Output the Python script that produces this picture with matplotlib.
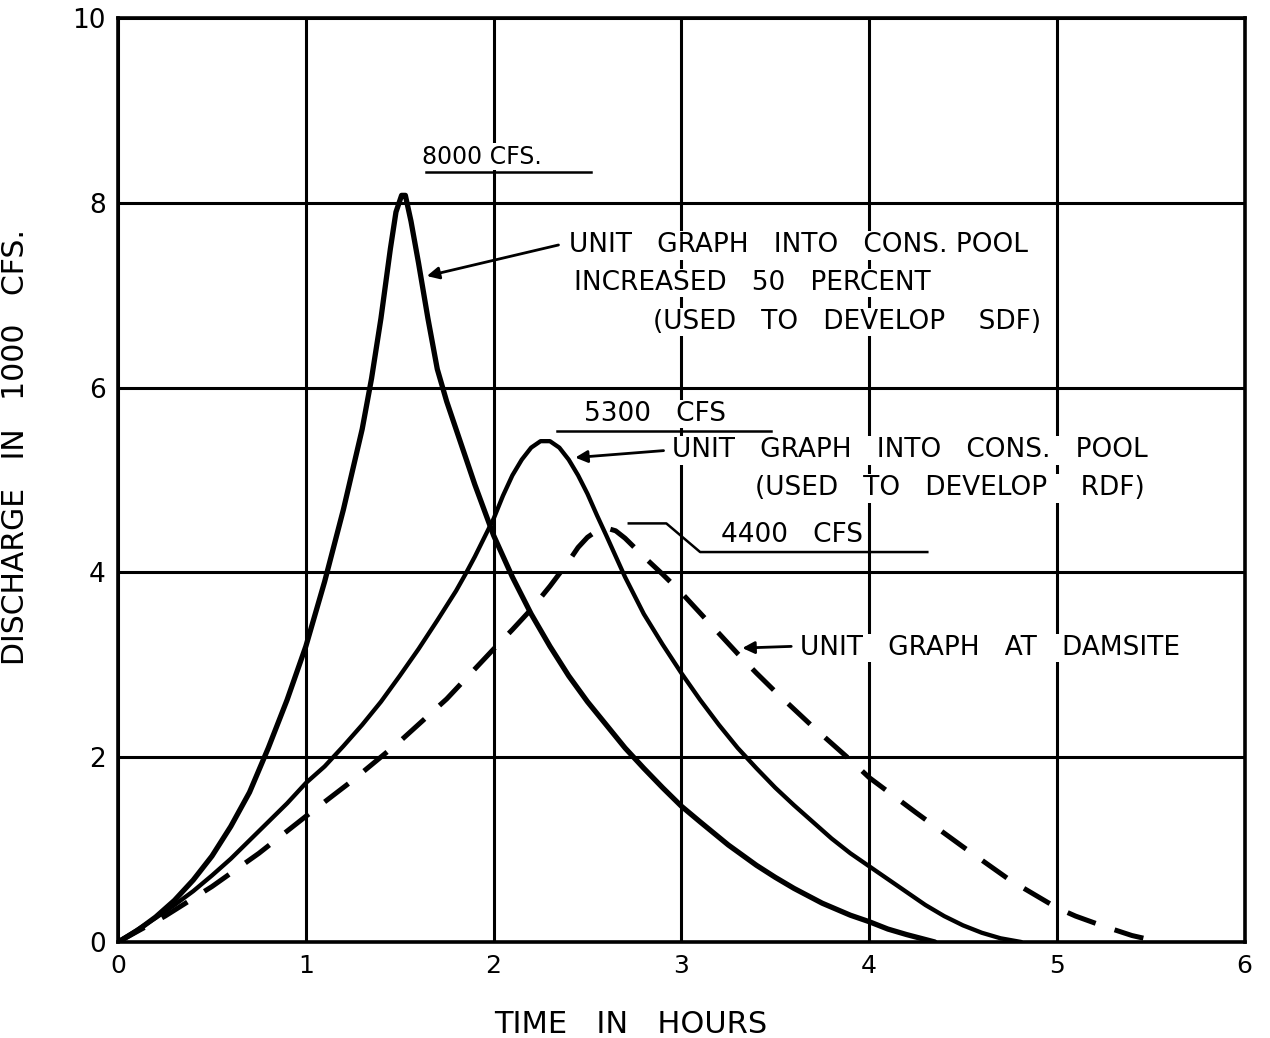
import matplotlib
matplotlib.use("Agg")
import matplotlib.pyplot as plt

# ---- data ----
t_sdf = [0, 0.1, 0.2, 0.3, 0.4, 0.5, 0.6, 0.7, 0.8, 0.9, 1.0, 1.1, 1.2, 1.3, 1.35, 1.4, 1.45,
         1.48, 1.51, 1.53, 1.56, 1.6, 1.65, 1.7, 1.75, 1.8, 1.9, 2.0, 2.1, 2.2, 2.3, 2.4, 2.5,
         2.6, 2.7, 2.8, 2.9, 3.0, 3.1, 3.25, 3.4, 3.5, 3.6, 3.75, 3.9, 4.0, 4.1, 4.2, 4.35]
q_sdf = [0, 0.12, 0.27, 0.45, 0.67, 0.93, 1.25, 1.62, 2.1, 2.62, 3.2, 3.9, 4.68, 5.55, 6.1, 6.75, 7.5,
         7.9, 8.08, 8.08, 7.8, 7.35, 6.75, 6.2, 5.85, 5.55, 4.95, 4.4, 3.95, 3.55, 3.2, 2.88, 2.6,
         2.35, 2.1, 1.88, 1.67, 1.47, 1.3, 1.05, 0.83, 0.7, 0.58, 0.42, 0.29, 0.22, 0.14, 0.08, 0]

t_rdf = [0, 0.1, 0.2, 0.3, 0.4, 0.5, 0.6, 0.7, 0.8, 0.9, 1.0, 1.1, 1.2, 1.3, 1.4, 1.5, 1.6, 1.7,
         1.8, 1.85, 1.9, 2.0, 2.05, 2.1, 2.15, 2.2, 2.25, 2.3, 2.35, 2.4, 2.45, 2.5, 2.55, 2.6,
         2.7, 2.8, 2.9, 3.0, 3.1, 3.2, 3.3, 3.4, 3.5, 3.6, 3.7, 3.8, 3.9, 4.0, 4.1, 4.2, 4.3,
         4.4, 4.5, 4.6, 4.7, 4.81]
q_rdf = [0, 0.13, 0.26, 0.4, 0.55, 0.72, 0.9, 1.1, 1.3, 1.5, 1.72, 1.9, 2.12, 2.35, 2.6, 2.88, 3.17, 3.48,
         3.8, 3.98, 4.17, 4.58, 4.83, 5.05, 5.22, 5.35, 5.42, 5.42, 5.35, 5.22, 5.05, 4.85, 4.62, 4.4,
         3.95, 3.55, 3.22, 2.91, 2.62, 2.35, 2.1, 1.88, 1.67, 1.48, 1.3, 1.12, 0.96, 0.82, 0.68, 0.54, 0.4,
         0.28, 0.18, 0.1, 0.04, 0]

t_dam = [0, 0.25, 0.5, 0.75, 1.0, 1.25, 1.5, 1.75, 2.0, 2.1, 2.2, 2.3, 2.4, 2.45, 2.5, 2.55, 2.6,
         2.65, 2.7, 2.8, 2.9, 3.0, 3.1, 3.2, 3.3, 3.4, 3.5, 3.6, 3.7, 3.8, 3.9, 4.0, 4.25, 4.5,
         4.75, 5.0, 5.1, 5.25, 5.4, 5.55]
q_dam = [0, 0.28, 0.6, 0.96, 1.36, 1.75, 2.17, 2.63, 3.17, 3.38, 3.6, 3.85, 4.12, 4.27, 4.38, 4.45, 4.48,
         4.45, 4.37, 4.17, 3.98, 3.78, 3.56, 3.34, 3.12, 2.91, 2.71, 2.52, 2.33, 2.15, 1.97, 1.78, 1.4, 1.03,
         0.67, 0.37, 0.28, 0.17, 0.07, 0]

x_ticks = [0, 1, 2, 3, 4, 5, 6]
y_ticks = [0, 2, 4, 6, 8, 10]

FONT = "DejaVu Sans"
plt.rcParams["font.family"] = [FONT]

fig = plt.figure(figsize=(12.7, 10.38), dpi=100)
ax = fig.add_axes([0.093, 0.0925, 0.887, 0.8902])

ax.set_xlim(0, 6)
ax.set_ylim(0, 10)
ax.set_xticks(x_ticks)
ax.set_yticks(y_ticks)
ax.set_xticklabels([str(v) for v in x_ticks], fontsize=18)
ax.set_yticklabels([str(v) for v in y_ticks], fontsize=19)
ax.tick_params(length=0, pad=9)
ax.grid(True, color="black", linewidth=2.2)
ax.set_axisbelow(True)
for s in ax.spines.values():
    s.set_linewidth(2.6)

ax.plot(t_sdf, q_sdf, color="black", lw=3.8, solid_joinstyle="round", solid_capstyle="round", zorder=3)
ax.plot(t_rdf, q_rdf, color="black", lw=3.1, solid_joinstyle="round", solid_capstyle="round", zorder=3)
ax.plot(t_dam, q_dam, color="black", lw=3.6, dashes=(6, 4), zorder=3)

ax.set_xlabel("TIME   IN   HOURS", fontsize=22)
ax.xaxis.set_label_coords(0.455, -0.074)
ax.set_ylabel("DISCHARGE   IN   1000   CFS.", fontsize=21.5)
ax.yaxis.set_label_coords(-0.078, 0.536)

tb = dict(facecolor="white", edgecolor="none", pad=1)
fs = 19
ax.text(1.62, 8.37, "8000 CFS.", fontsize=17, ha="left", va="bottom", bbox=tb, zorder=4)
ax.plot([1.64, 2.52], [8.33, 8.33], color="black", lw=1.8, zorder=4)

ax.text(2.40, 7.54, "UNIT   GRAPH   INTO   CONS. POOL", fontsize=fs, ha="left", va="center", bbox=tb, zorder=4)
ax.text(2.43, 7.13, "INCREASED   50   PERCENT", fontsize=fs, ha="left", va="center", bbox=tb, zorder=4)
ax.text(2.85, 6.71, "(USED   TO   DEVELOP    SDF)", fontsize=fs, ha="left", va="center", bbox=tb, zorder=4)
ax.annotate("", xy=(1.63, 7.2), xytext=(2.36, 7.55),
            arrowprops=dict(arrowstyle="-|>", color="black", lw=2, mutation_scale=18), zorder=4)

ax.text(2.48, 5.575, "5300   CFS", fontsize=fs, ha="left", va="bottom", bbox=tb, zorder=4)
ax.plot([2.34, 3.48], [5.53, 5.53], color="black", lw=1.8, zorder=4)
ax.text(2.95, 5.32, "UNIT   GRAPH   INTO   CONS.   POOL", fontsize=fs, ha="left", va="center", bbox=tb, zorder=4)
ax.text(3.39, 4.91, "(USED   TO   DEVELOP    RDF)", fontsize=fs, ha="left", va="center", bbox=tb, zorder=4)
ax.annotate("", xy=(2.42, 5.24), xytext=(2.92, 5.32),
            arrowprops=dict(arrowstyle="-|>", color="black", lw=2, mutation_scale=18), zorder=4)

ax.text(3.21, 4.265, "4400   CFS", fontsize=fs, ha="left", va="bottom", bbox=tb, zorder=4)
ax.plot([2.72, 2.92, 3.10, 4.31], [4.53, 4.53, 4.22, 4.22], color="black", lw=1.8, zorder=4)

ax.text(3.63, 3.18, "UNIT   GRAPH   AT   DAMSITE", fontsize=fs, ha="left", va="center", bbox=tb, zorder=4)
ax.annotate("", xy=(3.31, 3.18), xytext=(3.60, 3.2),
            arrowprops=dict(arrowstyle="-|>", color="black", lw=2, mutation_scale=18), zorder=4)

fig.savefig("out.png", dpi=100)
